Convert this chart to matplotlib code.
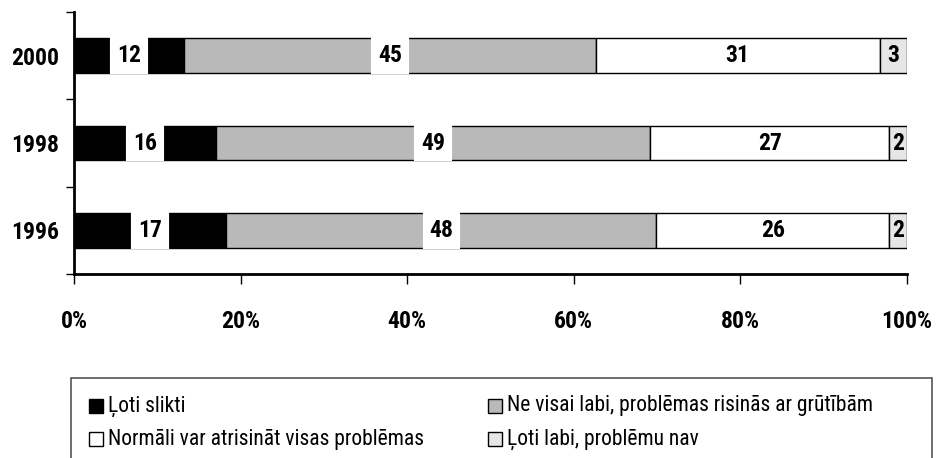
import numpy as np
import matplotlib
matplotlib.use('Agg')
import matplotlib.pyplot as plt
from matplotlib.patches import Rectangle

plt.rcParams['font.family'] = ['Roboto Condensed', 'DejaVu Sans']

# data (bottom to top)
years = ['1996', '1998', '2000']
loti_slikti = [17, 16, 12]
ne_visai = [48, 49, 45]
normali = [26, 27, 31]
loti_labi = [2, 2, 3]

series_names = ['Ļoti slikti', 'Ne visai labi, problēmas risinās ar grūtībām',
                'Normāli var atrisināt visas problēmas', 'Ļoti labi, problēmu nav']
colors = ['#000000', '#b9b9b9', '#ffffff', '#e6e6e6']
xtick_labels = ['0%', '20%', '40%', '60%', '80%', '100%']

data = np.array([loti_slikti, ne_visai, normali, loti_labi], dtype=float)
totals = data.sum(axis=0)
shares = data / totals * 100

fig = plt.figure(figsize=(9.36, 4.58), dpi=100)
ax = fig.add_axes([74/936, 1 - 274/458, (907-74)/936, (274-12)/458])

y = np.arange(len(years))
left = np.zeros(len(years))
for i in range(4):
    ax.barh(y, shares[i], left=left, height=0.4, color=colors[i],
            edgecolor='black', linewidth=1, zorder=2)
    for j in range(len(years)):
        cx = left[j] + shares[i][j] / 2
        bb = None
        if i < 2:
            # white label background like the original
            bb = dict(boxstyle='square,pad=0.2', fc='white', ec='white', lw=3)
        ax.text(cx, y[j], '{:d}'.format(int(data[i][j])), ha='center', va='center',
                fontsize=17, fontweight='bold', bbox=bb, zorder=3)
    left += shares[i]

ax.set_xlim(0, 100)
ax.set_ylim(-0.5, 2.5)
ax.set_xticks(np.arange(0, 101, 20))
ax.set_xticklabels(xtick_labels, fontsize=17, fontweight='bold')
ax.set_yticks(y)
ax.set_yticklabels(years, fontsize=17, fontweight='bold')
ax.set_yticks([-0.5, 0.5, 1.5, 2.5], minor=True)
ax.tick_params(axis='y', which='major', length=0, pad=11)
ax.tick_params(axis='y', which='minor', length=6, width=1, direction='out')
ax.tick_params(axis='x', length=7, width=1, direction='out', pad=19)
for s in ['top', 'right']:
    ax.spines[s].set_visible(False)
ax.spines['left'].set_linewidth(2)
ax.spines['bottom'].set_linewidth(2)

# legend box (runs off the bottom of the picture)
W, H = 936.0, 458.0
fig.patches.append(Rectangle((71/W, -0.05), (932-71)/W, (0.05 + 1 - 378/H),
                             transform=fig.transFigure, fill=False, ec='#555555', lw=1.2))
leg_pos = [(89, 406), (488, 406), (89, 439), (488, 439)]
for k in range(4):
    px, py = leg_pos[k]
    fig.patches.append(Rectangle((px/W, 1 - (py+7)/H), 14/W, 14/H, transform=fig.transFigure,
                                 fc=colors[k], ec='black', lw=1))
    fig.text((px+19)/W, 1 - py/H, series_names[k], ha='left', va='center', fontsize=15.5)

fig.savefig('out.png', dpi=100)
